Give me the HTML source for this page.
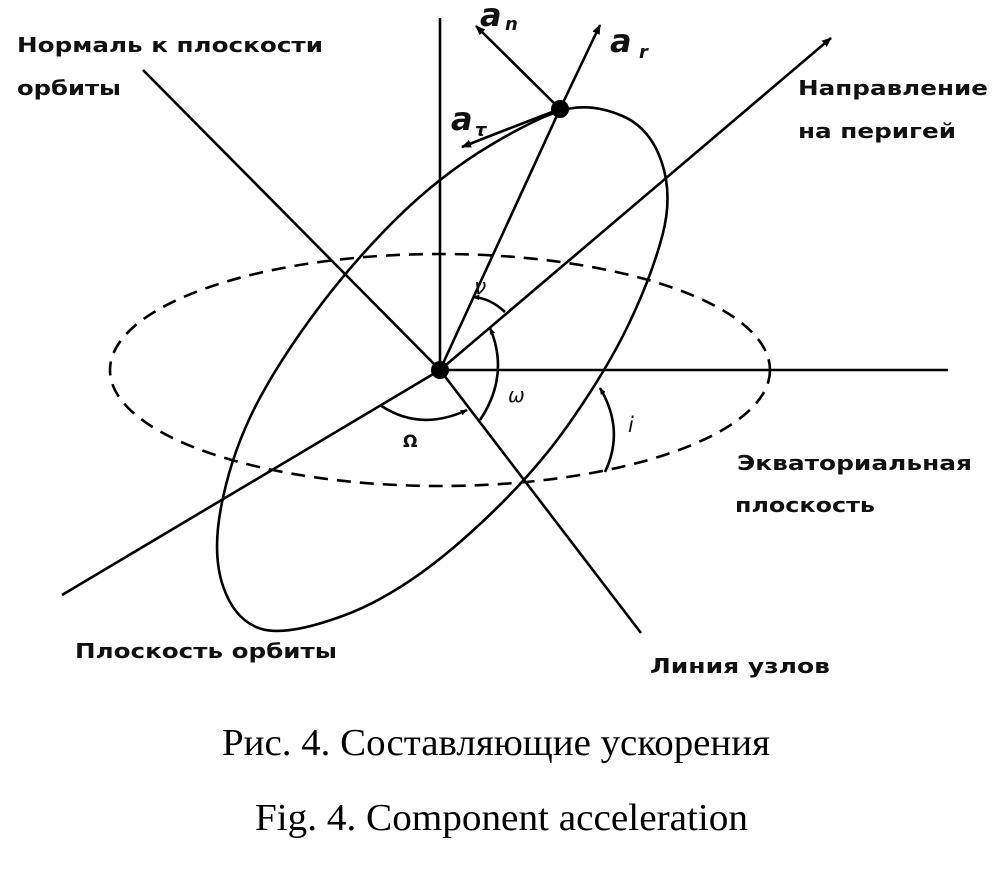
<!DOCTYPE html>
<html><head><meta charset="utf-8"><style>
html,body{margin:0;padding:0;background:#fff;}
svg{display:block;}
.lb{font-family:"DejaVu Sans","Liberation Sans",sans-serif;font-weight:bold;font-size:20px;fill:#111;}
.cap{font-family:"Liberation Serif",serif;font-size:38px;fill:#000;}
.it{font-family:"DejaVu Sans","Liberation Sans",sans-serif;font-style:italic;fill:#111;}
.ib{font-family:"DejaVu Sans","Liberation Sans",sans-serif;font-style:italic;font-weight:bold;fill:#111;}
</style></head><body>
<svg width="992" height="879" viewBox="0 0 992 879" xmlns="http://www.w3.org/2000/svg">
<defs>
<marker id="ar" viewBox="0 0 10 10" refX="9" refY="5" markerWidth="7" markerHeight="7" orient="auto" markerUnits="userSpaceOnUse">
<path d="M0,1 L10,5 L0,9 z" fill="#000"/></marker>
<marker id="ar2" viewBox="0 0 10 10" refX="9" refY="5" markerWidth="10" markerHeight="10" orient="auto" markerUnits="userSpaceOnUse">
<path d="M0,1 L10,5 L0,9 z" fill="#000"/></marker>
</defs>
<g stroke="#000" fill="none" stroke-width="2.6">
<ellipse cx="440" cy="370" rx="330" ry="116" stroke-dasharray="14,9"/>
<line x1="440" y1="18" x2="440" y2="370"/>
<line x1="440" y1="370" x2="948" y2="370"/>
<line x1="143" y1="70" x2="440" y2="370"/>
<line x1="440" y1="370" x2="641" y2="633"/>
<line x1="62" y1="595" x2="440" y2="370"/>
<line x1="440" y1="370" x2="831" y2="38" marker-end="url(#ar2)"/>
<line x1="440" y1="370" x2="560" y2="109"/>
<line x1="560" y1="109" x2="600" y2="25" marker-end="url(#ar2)"/>
<line x1="560" y1="109" x2="476" y2="26" marker-end="url(#ar2)"/>
<path d="M560,109 Q510,128 462,147" marker-end="url(#ar2)"/>
<path d="M 342.5 616 Q 400 595 463.5 539 Q 527 483 567 426.5 Q 607 370 629.5 322.5 Q 652 275 662.5 235 Q 673 195 661.5 161.5 Q 650 128 622.5 116 Q 595 104 570 108.5 Q 545 113 492.5 144 Q 440 175 393.5 221.5 Q 347 268 308.5 321.5 Q 270 375 250 417.5 Q 230 460 221 507.5 Q 212 555 223.5 587.5 Q 235 620 260 628.5 Q 285 637 342.5 616 Z"/>
<path d="M505,312 Q490,298 473,297" marker-end="url(#ar)"/>
<path d="M480,420 Q510,375 490,328" marker-end="url(#ar)"/>
<path d="M380,405 Q420,432 467,410" marker-end="url(#ar)"/>
<path d="M605,472 Q625,430 600,388" marker-end="url(#ar)"/>
</g>
<circle cx="440" cy="370" r="9" fill="#000"/>
<circle cx="560" cy="109" r="9" fill="#000"/>
<text class="it" x="474" y="294" font-size="22">ν</text>
<text class="it" x="508" y="402" font-size="20">ω</text>
<text x="403" y="447" font-family="DejaVu Sans,sans-serif" font-weight="bold" font-size="17" fill="#111">Ω</text>
<text class="it" x="628" y="432" font-size="21">i</text>
<text class="ib" x="480" y="26" font-size="32">a</text><text class="ib" x="505" y="30" font-size="18">n</text>
<text class="ib" x="610" y="52" font-size="32">a</text><text class="ib" x="639" y="58" font-size="18">r</text>
<text class="ib" x="451" y="130" font-size="32">a</text><text class="ib" x="475" y="136" font-size="18">τ</text>
<text class="lb" x="17" y="52" textLength="306" lengthAdjust="spacingAndGlyphs">Нормаль к плоскости</text>
<text class="lb" x="17" y="95" textLength="104" lengthAdjust="spacingAndGlyphs">орбиты</text>
<text class="lb" x="798" y="95" textLength="190" lengthAdjust="spacingAndGlyphs">Направление</text>
<text class="lb" x="798" y="138" textLength="158" lengthAdjust="spacingAndGlyphs">на перигей</text>
<text class="lb" x="737" y="470" textLength="235" lengthAdjust="spacingAndGlyphs">Экваториальная</text>
<text class="lb" x="735" y="512" textLength="140" lengthAdjust="spacingAndGlyphs">плоскость</text>
<text class="lb" x="75" y="658" textLength="262" lengthAdjust="spacingAndGlyphs">Плоскость орбиты</text>
<text class="lb" x="650" y="673" textLength="180" lengthAdjust="spacingAndGlyphs">Линия узлов</text>
<text class="cap" x="222" y="755" textLength="548" lengthAdjust="spacingAndGlyphs">Рис. 4. Составляющие ускорения</text>
<text class="cap" x="255" y="830" textLength="493" lengthAdjust="spacingAndGlyphs">Fig. 4. Component acceleration</text>
</svg>
</body></html>
